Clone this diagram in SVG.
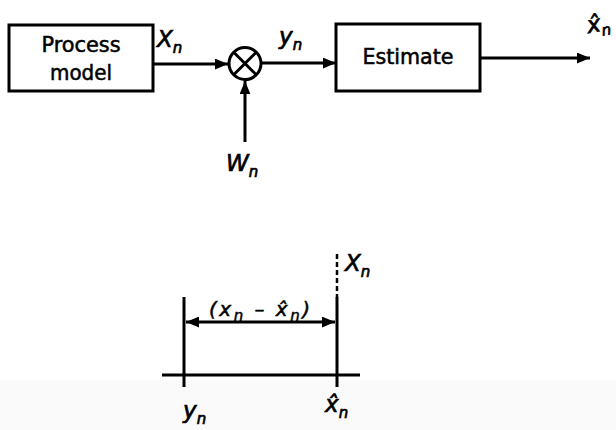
<svg xmlns="http://www.w3.org/2000/svg" width="616" height="430" viewBox="0 0 616 430">
<defs>
<marker id="ah" viewBox="0 0 12 10" refX="12" refY="5" markerWidth="13" markerHeight="11" markerUnits="userSpaceOnUse" orient="auto-start-reverse">
<path d="M0,0 L12,5 L0,10 Z" fill="#000"/>
</marker>
</defs>
<style>
.box{fill:#fff;stroke:#000;stroke-width:3}
.ln{stroke:#000;stroke-width:3;fill:none}
.lbl{font-family:"DejaVu Sans Condensed","Liberation Sans",Arial,sans-serif;font-size:21px;fill:#000;stroke:#000;stroke-width:0.5}
.var{font-family:"DejaVu Sans","Liberation Sans",sans-serif;font-style:italic;font-size:23px;fill:#000;stroke:#000;stroke-width:0.7}
.sub{font-size:15px}
.small{font-family:"DejaVu Sans","Liberation Sans",sans-serif;font-style:italic;font-size:20px;fill:#000;stroke:#000;stroke-width:0.5}
</style>
<rect x="0" y="380" width="616" height="50" fill="#fafafa"/>
<g id="connectors">
<line class="ln" x1="153" y1="64" x2="228" y2="64" marker-end="url(#ah)"/>
<line class="ln" x1="245" y1="142" x2="245" y2="81" marker-end="url(#ah)"/>
<line class="ln" x1="262" y1="63" x2="336" y2="63" marker-end="url(#ah)"/>
<line class="ln" x1="480" y1="58" x2="590" y2="58" marker-end="url(#ah)"/>
</g>
<g id="process-model">
<rect class="box" x="9" y="25" width="144" height="66"/>
<text class="lbl" x="81" y="52" text-anchor="middle" textLength="79" lengthAdjust="spacingAndGlyphs">Process</text>
<text class="lbl" x="81" y="80" text-anchor="middle" textLength="62" lengthAdjust="spacingAndGlyphs">model</text>
</g>
<g id="multiplier">
<circle cx="245" cy="63.5" r="16" fill="#fff" stroke="#000" stroke-width="3"/>
<line class="ln" x1="233.7" y1="52.2" x2="256.3" y2="74.8"/>
<line class="ln" x1="256.3" y1="52.2" x2="233.7" y2="74.8"/>
</g>
<g id="estimate">
<rect class="box" x="336" y="24" width="144" height="67"/>
<text class="lbl" x="408" y="64" text-anchor="middle" textLength="91" lengthAdjust="spacingAndGlyphs" font-size="22">Estimate</text>
</g>
<g id="labels-top">
<text class="var" x="157" y="47">X<tspan class="sub" dy="6">n</tspan></text>
<text class="var" x="279" y="44">y<tspan class="sub" dy="6">n</tspan></text>
<text class="var" x="226" y="171">W<tspan class="sub" dy="6">n</tspan></text>
<text class="var" x="587" y="32" font-size="27" transform="rotate(-10 595 25)">x̂<tspan class="sub" dy="5">n</tspan></text>
</g>
<g id="error-plot">
<line class="ln" x1="162" y1="375" x2="360" y2="375"/>
<line class="ln" x1="184" y1="297" x2="184" y2="387"/>
<line class="ln" x1="337" y1="297" x2="337" y2="387"/>
<line x1="337" y1="254" x2="337" y2="297" stroke="#000" stroke-width="2.5" stroke-dasharray="5,3"/>
<line class="ln" x1="186" y1="322" x2="335" y2="322" marker-start="url(#ah)" marker-end="url(#ah)"/>
<text class="small" x="209" y="316" textLength="101">(x<tspan class="sub" dy="5">n</tspan><tspan dy="-5"> – x̂</tspan><tspan class="sub" dy="5">n</tspan><tspan dy="-5">)</tspan></text>
<text class="var" x="345" y="271">X<tspan class="sub" dy="6">n</tspan></text>
<text class="var" x="183" y="418">y<tspan class="sub" dy="6">n</tspan></text>
<text class="var" x="325" y="412">x̂<tspan class="sub" dy="6">n</tspan></text>
</g>
</svg>
